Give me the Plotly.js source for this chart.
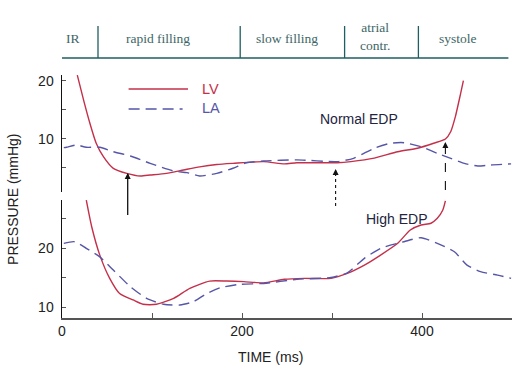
<!DOCTYPE html>
<html><head><meta charset="utf-8">
<script src="https://cdn.plot.ly/plotly-3.0.1.min.js"></script>
<style>html,body{margin:0;padding:0;background:#fff}#chart{width:528px;height:375px}</style>
</head><body><div id="chart"></div>
<script>
// Phase header
const phaseNames = ['IR', 'rapid filling', 'slow filling', 'atrial<br>contr.', 'systole'];
const phaseCenters = [12, 107, 250, 348, 440];
const phaseBounds = [40, 198, 314, 396];

// Upper panel (Normal EDP)
const timeUpperLV = [17, 24, 31, 38, 46, 57, 72, 87, 98, 116, 135, 153, 172, 190, 224, 247, 261, 306, 321, 347, 373, 395, 413, 426, 432, 437, 443, 446];
const lvUpper = [21.0, 16.7, 12.7, 9.26, 6.95, 4.94, 4.08, 3.62, 3.79, 4.08, 4.66, 5.2, 5.6, 5.8, 6.1, 5.7, 5.9, 5.9, 6.1, 6.7, 7.8, 8.4, 9.26, 10.0, 11.3, 13.8, 17.9, 20.05];
const timeUpperLA = [2, 5, 16, 27, 42, 57, 76, 98, 124, 139, 153, 172, 190, 205, 224, 261, 306, 324, 347, 365, 380, 399, 417, 432, 447, 462, 476, 499];
const laUpper = [8.5, 8.57, 8.97, 8.57, 8.57, 7.8, 7.07, 5.8, 4.48, 4.2, 3.62, 4.08, 4.95, 5.9, 6.2, 6.4, 6.1, 6.67, 8.4, 9.26, 9.36, 8.67, 7.53, 6.67, 5.8, 5.34, 5.52, 5.7];

// Lower panel (High EDP)
const timeLowerLV = [27, 33, 42, 53, 64, 79, 90, 105, 124, 142, 164, 183, 202, 224, 247, 269, 299, 317, 336, 354, 373, 387, 399, 410, 417, 423, 426];
const lvLower = [28.1, 23.6, 18.8, 14.86, 12.3, 11.2, 10.46, 10.46, 11.47, 13.17, 14.4, 14.4, 14.3, 14.1, 14.7, 14.86, 14.86, 15.7, 17.1, 18.8, 20.8, 23.05, 23.9, 24.2, 25.03, 26.4, 28.0];
const timeLowerLA = [2, 14, 27, 42, 57, 76, 94, 113, 131, 146, 161, 176, 198, 224, 261, 299, 317, 336, 354, 380, 399, 417, 436, 450, 465, 484, 499];
const laLower = [20.8, 21.07, 19.95, 18.5, 16.27, 13.44, 11.47, 10.46, 10.34, 10.9, 12.3, 13.27, 13.85, 14.0, 14.7, 15.0, 15.8, 18.25, 19.95, 21.07, 21.75, 20.8, 19.37, 17.1, 16.0, 15.4, 14.86];

// Arrow times (ms)
const arrowTimes = [73, 304, 426];

const LVc = '#c4304a', LAc = '#5656a8';
const lvLine = {color: LVc, width: 1.4, shape: 'spline', smoothing: 0.6};
const laLine = {color: LAc, width: 1.4, dash: '11px,6px', shape: 'spline', smoothing: 0.6};

const traces = [
  {x: timeUpperLV, y: lvUpper, xaxis: 'x', yaxis: 'y2', mode: 'lines', line: lvLine, name: 'LV'},
  {x: timeUpperLA, y: laUpper, xaxis: 'x', yaxis: 'y2', mode: 'lines', line: laLine, name: 'LA'},
  {x: timeLowerLV, y: lvLower, xaxis: 'x', yaxis: 'y', mode: 'lines', line: lvLine},
  {x: timeLowerLA, y: laLower, xaxis: 'x', yaxis: 'y', mode: 'lines', line: laLine}
];

const SANS = 'Liberation Sans, Arial, sans-serif';
const tickFont = {family: SANS, size: 14, color: '#222'};
const P = py => (318 - py) / 293;   // pixel row -> paper y
const hdr = '#1e5f60';

const shapes = [];
shapes.push({type: 'line', xref: 'x', yref: 'paper', x0: -2, x1: 496, y0: P(58), y1: P(58), line: {color: hdr, width: 1.3}});
phaseBounds.forEach(b => shapes.push({type: 'line', xref: 'x', yref: 'paper', x0: b, x1: b, y0: P(26), y1: P(58), line: {color: hdr, width: 1.3}}));
shapes.push({type: 'line', xref: 'x', yref: 'paper', x0: 74, x1: 140, y0: P(89), y1: P(89), line: {color: LVc, width: 1.4}});
shapes.push({type: 'line', xref: 'x', yref: 'paper', x0: 74, x1: 134, y0: P(109), y1: P(109), line: {color: LAc, width: 1.4, dash: '11px,6px'}});
const arrowStyles = [{tip: 174, tail: 215, dash: 'solid'}, {tip: 170, tail: 206, dash: 'dot'}, {tip: 143, tail: 190, dash: 'dash'}];
arrowTimes.forEach((t, i) => shapes.push({type: 'line', xref: 'x', yref: 'paper', x0: t, x1: t, y0: P(arrowStyles[i].tail), y1: P(arrowStyles[i].tip), line: {color: '#111', width: i === 0 ? 1.3 : 1.1, dash: arrowStyles[i].dash}}));

const annotations = [];
const ann = (o) => annotations.push(Object.assign({showarrow: false, xanchor: 'center', yanchor: 'middle'}, o));
phaseNames.forEach((n, i) => ann({xref: 'x', yref: 'paper', x: phaseCenters[i], y: P(i === 3 ? 36 : 38), text: n, font: {family: 'Liberation Serif, Times New Roman, serif', size: 13.5, color: '#3d6666'}}));
ann({xref: 'x', yref: 'paper', x: 153, y: P(89), text: 'LV', xanchor: 'left', font: {family: SANS, size: 14.5, color: LVc}});
ann({xref: 'x', yref: 'paper', x: 153, y: P(108), text: 'LA', xanchor: 'left', font: {family: SANS, size: 14.5, color: LAc}});
ann({xref: 'x', yref: 'paper', x: 330, y: P(119), text: 'Normal EDP', font: {family: SANS, size: 14, color: '#24243e'}});
ann({xref: 'x', yref: 'paper', x: 372, y: P(219), text: 'High EDP', font: {family: SANS, size: 14, color: '#24243e'}});
arrowStyles.forEach((a, i) => annotations.push({xref: 'x', yref: 'paper', x: arrowTimes[i], y: P(a.tip - 1), text: '', showarrow: true, ax: 0, ay: 7, arrowhead: 2, arrowsize: 1, arrowwidth: 1.2, arrowcolor: '#111'}));
ann({xref: 'paper', yref: 'paper', x: -0.109, y: P(199), text: 'PRESSURE (mmHg)', textangle: -90, font: tickFont});
ann({xref: 'paper', yref: 'paper', x: 0.464, y: P(357), text: 'TIME (ms)', font: tickFont});

const layout = {
  width: 528, height: 375,
  margin: {l: 62, r: 16, t: 25, b: 57},
  paper_bgcolor: '#fff', plot_bgcolor: 'rgba(0,0,0,0)',
  showlegend: false,
  xaxis: {range: [0, 500], domain: [0, 1], anchor: 'y', showgrid: false, zeroline: false,
    showline: true, linecolor: '#555', linewidth: 1.5, ticks: 'inside', ticklen: 5, tickcolor: '#555',
    tickvals: [0, 100, 200, 300, 400, 500], ticktext: ['0', '', '200', '', '400', ''], tickfont: tickFont},
  yaxis: {range: [8.14, 28.14], domain: [0, P(200)], anchor: 'x', showgrid: false, zeroline: false,
    showline: true, linecolor: '#111', linewidth: 1.5, ticks: 'inside', ticklen: 4, tickcolor: '#555',
    tickvals: [10, 15, 20, 25], ticktext: ['10', '', '20', ''], tickfont: tickFont, ticklabelstandoff: 4},
  yaxis2: {range: [0.86, 21.03], domain: [P(192), P(75)], anchor: 'x', showgrid: false, zeroline: false,
    showline: true, linecolor: '#111', linewidth: 1.5, ticks: 'inside', ticklen: 4, tickcolor: '#555',
    tickvals: [5, 10, 15, 20], ticktext: ['', '10', '', '20'], tickfont: tickFont, ticklabelstandoff: 4},
  shapes: shapes,
  annotations: annotations
};

Plotly.newPlot('chart', traces, layout, {displayModeBar: false, staticPlot: true});
</script></body></html>
